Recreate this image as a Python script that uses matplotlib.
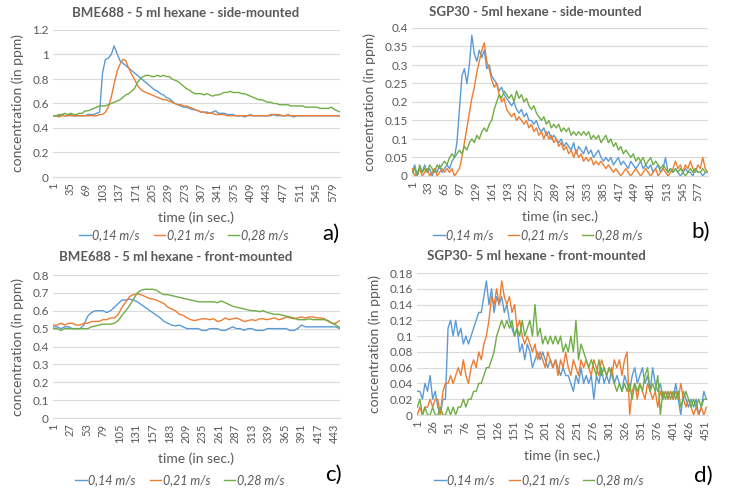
import numpy as np
import matplotlib
matplotlib.use("Agg")
import matplotlib.pyplot as plt
from matplotlib.lines import Line2D

plt.rcParams['font.family'] = ['Lato', 'DejaVu Sans']

# ---------------- data ----------------
speeds = ["0,14 m/s", "0,21 m/s", "0,28 m/s"]
colors = ["#5B9BD5", "#ED7D31", "#70AD47"]

# a) BME688 side-mounted, sampled every 6 s
t_a = list(range(1, 596, 6))
bme_side_014 = [0.50,0.50,0.50,0.51,0.50,0.50,0.51,0.50,0.50,0.50,
                0.50,0.50,0.51,0.51,0.51,0.52,0.53,0.85,0.96,0.97,
                1.00,1.07,1.01,0.95,0.93,0.91,0.89,0.87,0.85,0.83,
                0.81,0.79,0.77,0.75,0.73,0.71,0.70,0.68,0.67,0.65,
                0.64,0.62,0.60,0.59,0.58,0.57,0.57,0.56,0.55,0.55,
                0.54,0.53,0.53,0.53,0.52,0.53,0.54,0.52,0.52,0.52,
                0.51,0.51,0.51,0.50,0.50,0.50,0.49,0.50,0.51,0.50,
                0.50,0.50,0.50,0.50,0.50,0.50,0.51,0.50,0.50,0.50,
                0.50,0.50,0.50,0.49,0.50,0.50,0.50,0.50,0.50,0.50,
                0.50,0.50,0.50,0.50,0.50,0.50,0.50,0.50,0.50,0.50]
bme_side_021 = [0.50,0.50,0.49,0.50,0.50,0.50,0.50,0.50,0.50,0.50,
                0.50,0.50,0.50,0.50,0.50,0.50,0.51,0.51,0.53,0.57,
                0.65,0.76,0.86,0.92,0.96,0.95,0.89,0.84,0.80,0.75,
                0.72,0.70,0.69,0.68,0.67,0.66,0.65,0.64,0.63,0.63,
                0.62,0.61,0.60,0.59,0.59,0.58,0.58,0.57,0.56,0.55,
                0.54,0.53,0.53,0.52,0.52,0.52,0.51,0.51,0.51,0.51,
                0.50,0.50,0.50,0.50,0.50,0.50,0.50,0.50,0.50,0.50,
                0.50,0.50,0.50,0.50,0.50,0.51,0.51,0.51,0.51,0.50,
                0.50,0.51,0.50,0.50,0.50,0.50,0.50,0.50,0.50,0.50,
                0.50,0.50,0.50,0.50,0.50,0.50,0.50,0.50,0.50,0.50]
bme_side_028 = [0.50,0.50,0.51,0.51,0.52,0.51,0.52,0.51,0.51,0.52,
                0.52,0.54,0.54,0.55,0.56,0.57,0.58,0.58,0.58,0.59,
                0.60,0.61,0.62,0.63,0.65,0.67,0.68,0.70,0.72,0.77,
                0.80,0.82,0.83,0.83,0.82,0.82,0.83,0.82,0.83,0.82,
                0.82,0.80,0.79,0.78,0.76,0.74,0.72,0.71,0.69,0.68,
                0.68,0.68,0.67,0.68,0.67,0.66,0.67,0.67,0.68,0.69,
                0.69,0.70,0.69,0.69,0.69,0.68,0.68,0.67,0.66,0.65,
                0.64,0.63,0.63,0.62,0.61,0.61,0.60,0.60,0.59,0.59,
                0.59,0.59,0.58,0.58,0.58,0.58,0.58,0.57,0.57,0.57,
                0.57,0.57,0.56,0.56,0.56,0.56,0.57,0.55,0.54,0.53]

# b) SGP30 side-mounted, sampled every 5 s
t_b = list(range(1, 597, 5))
sgp_side_014 = [0.01,0.03,0.00,0.02,0.01,0.03,0.01,0.02,0.00,0.02,
                0.01,0.03,0.01,0.02,0.03,0.02,0.04,0.05,0.09,0.18,
                0.27,0.29,0.25,0.30,0.38,0.33,0.31,0.34,0.32,0.34,
                0.29,0.30,0.27,0.26,0.25,0.23,0.24,0.22,0.21,0.20,
                0.19,0.20,0.18,0.17,0.18,0.16,0.17,0.15,0.15,0.14,
                0.15,0.13,0.12,0.13,0.11,0.12,0.10,0.11,0.10,0.09,
                0.10,0.08,0.09,0.08,0.07,0.09,0.06,0.08,0.07,0.06,
                0.08,0.06,0.07,0.05,0.06,0.07,0.05,0.04,0.05,0.04,
                0.05,0.03,0.04,0.05,0.03,0.04,0.03,0.02,0.04,0.03,
                0.02,0.03,0.04,0.02,0.03,0.02,0.03,0.01,0.02,0.03,
                0.01,0.02,0.05,0.01,0.02,0.01,0.02,0.01,0.00,0.01,
                0.02,0.01,0.01,0.00,0.02,0.01,0.01,0.00,0.01,0.01]
sgp_side_021 = [0.02,0.00,0.01,0.02,0.00,0.01,0.02,0.00,0.01,0.02,
                0.00,0.01,0.02,0.01,0.02,0.01,0.02,0.00,0.01,0.02,
                0.05,0.09,0.13,0.17,0.21,0.24,0.28,0.31,0.34,0.36,
                0.31,0.29,0.26,0.24,0.25,0.22,0.20,0.21,0.18,0.17,
                0.16,0.17,0.15,0.16,0.15,0.14,0.15,0.13,0.14,0.12,
                0.13,0.11,0.12,0.10,0.12,0.10,0.11,0.09,0.10,0.08,
                0.09,0.07,0.08,0.06,0.07,0.05,0.07,0.05,0.06,0.04,
                0.05,0.04,0.05,0.03,0.04,0.03,0.04,0.03,0.02,0.03,
                0.02,0.01,0.02,0.01,0.00,0.01,0.02,0.01,0.00,0.01,
                0.02,0.01,0.00,0.01,0.02,0.01,0.00,0.01,0.02,0.00,
                0.01,0.02,0.01,0.00,0.01,0.02,0.04,0.02,0.03,0.01,
                0.03,0.02,0.04,0.02,0.01,0.03,0.02,0.05,0.02,0.01]
sgp_side_028 = [0.01,0.02,0.00,0.03,0.01,0.02,0.01,0.03,0.02,0.01,
                0.03,0.02,0.03,0.04,0.03,0.05,0.06,0.05,0.06,0.07,
                0.06,0.08,0.07,0.09,0.10,0.09,0.11,0.10,0.12,0.13,
                0.12,0.14,0.15,0.18,0.20,0.22,0.21,0.23,0.22,0.21,
                0.22,0.20,0.23,0.21,0.22,0.20,0.21,0.19,0.18,0.19,
                0.17,0.16,0.15,0.16,0.14,0.15,0.13,0.14,0.13,0.14,
                0.12,0.13,0.12,0.13,0.11,0.12,0.11,0.12,0.11,0.12,
                0.11,0.12,0.10,0.11,0.10,0.11,0.09,0.10,0.11,0.09,
                0.10,0.08,0.09,0.07,0.08,0.06,0.07,0.06,0.05,0.06,
                0.04,0.05,0.04,0.05,0.03,0.04,0.05,0.03,0.04,0.03,
                0.02,0.03,0.02,0.01,0.02,0.01,0.02,0.01,0.02,0.01,
                0.00,0.01,0.02,0.01,0.02,0.01,0.01,0.02,0.01,0.01]

# c) BME688 front-mounted, sampled every 6 s
t_c = list(range(1, 452, 6))
bme_front_014 = [0.51,0.51,0.50,0.51,0.51,0.50,0.50,0.50,0.52,0.57,
                 0.59,0.60,0.60,0.60,0.59,0.60,0.62,0.64,0.66,0.66,
                 0.665,0.66,0.65,0.635,0.62,0.605,0.59,0.575,0.56,0.54,
                 0.53,0.52,0.515,0.52,0.51,0.50,0.50,
                 0.50,0.50,0.49,0.49,0.50,0.50,0.50,0.49,0.49,0.50,
                 0.51,0.50,0.50,0.49,0.50,0.50,0.49,0.49,0.49,0.50,
                 0.50,0.50,0.50,0.50,0.50,0.49,0.49,0.50,0.52,0.51,
                 0.51,0.51,0.51,0.51,0.51,0.51,0.51,0.51,0.50]
bme_front_021 = [0.52,0.52,0.53,0.52,0.53,0.53,0.52,0.52,0.53,0.53,
                 0.54,0.54,0.54,0.55,0.55,0.56,0.56,0.58,0.62,0.65,
                 0.68,0.69,0.695,0.69,0.68,0.67,0.665,0.66,0.65,0.64,
                 0.62,0.61,0.60,0.58,0.575,0.56,0.55,0.545,0.55,0.555,
                 0.555,0.55,0.555,0.54,0.545,0.56,0.55,0.555,0.56,0.55,
                 0.54,0.545,0.55,0.545,0.555,0.555,0.55,0.555,0.56,0.55,
                 0.555,0.565,0.56,0.555,0.56,0.565,0.56,0.565,0.565,0.56,
                 0.56,0.555,0.54,0.53,0.53,0.545]
bme_front_028 = [0.50,0.50,0.49,0.50,0.50,0.50,0.50,0.50,0.50,0.50,
                 0.51,0.515,0.52,0.525,0.525,0.525,0.53,0.545,0.575,0.60,
                 0.63,0.665,0.70,0.715,0.72,0.72,0.72,0.715,0.70,0.69,
                 0.69,0.685,0.68,0.675,0.67,0.665,0.66,0.655,0.65,0.65,
                 0.65,0.65,0.65,0.645,0.655,0.645,0.635,0.625,0.62,0.615,
                 0.61,0.605,0.60,0.60,0.595,0.60,0.59,0.585,0.58,0.58,
                 0.575,0.57,0.565,0.56,0.55,0.55,0.55,0.555,0.55,0.55,
                 0.55,0.55,0.545,0.53,0.52,0.505]

# d) SGP30 front-mounted, sampled every 4 s
t_d = list(range(1, 454, 4))
sgp_front_014 = [0.03,0.03,0.02,0.04,0.03,0.05,0.02,0.03,0.01,0.00,
                 0.02,0.02,0.11,0.12,0.10,0.12,0.10,0.11,0.09,0.10,
                 0.09,0.10,0.11,0.12,0.13,0.13,0.15,0.17,0.14,0.16,
                 0.13,0.15,0.14,0.15,0.13,0.14,0.12,0.11,0.10,0.11,
                 0.08,0.09,0.07,0.09,0.08,0.06,0.07,0.08,0.07,0.08,
                 0.07,0.06,0.07,0.06,0.07,0.06,0.05,0.06,0.05,0.05,
                 0.04,0.03,0.05,0.04,0.06,0.04,0.05,0.04,0.05,0.02,
                 0.05,0.04,0.06,0.04,0.05,0.04,0.06,0.04,0.05,0.04,
                 0.03,0.05,0.04,0.03,0.05,0.06,0.04,0.05,0.06,0.04,
                 0.05,0.03,0.06,0.04,0.03,0.04,0.02,0.03,0.02,0.03,
                 0.02,0.04,0.02,0.00,0.03,0.02,0.01,0.02,0.01,0.02,
                 0.00,0.01,0.03,0.02]
sgp_front_021 = [0.00,0.01,0.00,0.01,0.01,0.02,0.01,0.02,0.02,0.00,
                 0.03,0.04,0.04,0.05,0.04,0.05,0.06,0.05,0.07,0.05,
                 0.04,0.06,0.07,0.06,0.08,0.07,0.09,0.10,0.12,0.15,
                 0.14,0.16,0.14,0.17,0.15,0.14,0.15,0.13,0.14,0.11,
                 0.12,0.10,0.09,0.10,0.09,0.08,0.09,0.07,0.08,0.07,
                 0.06,0.08,0.07,0.06,0.07,0.05,0.07,0.06,0.08,0.06,
                 0.05,0.07,0.06,0.05,0.07,0.06,0.07,0.06,0.05,0.07,
                 0.06,0.05,0.07,0.06,0.05,0.06,0.05,0.07,0.06,0.07,
                 0.05,0.07,0.08,0.00,0.03,0.04,0.02,0.04,0.03,0.02,
                 0.04,0.03,0.02,0.03,0.01,0.03,0.02,0.03,0.02,0.03,
                 0.02,0.03,0.02,0.04,0.02,0.01,0.02,0.01,0.00,0.01,
                 0.00,0.01,0.00,0.01]
sgp_front_028 = [0.01,0.02,0.00,0.01,0.00,0.00,0.01,0.00,0.00,0.01,
                 0.00,0.00,0.01,0.00,0.01,0.00,0.01,0.01,0.02,0.01,
                 0.02,0.02,0.03,0.03,0.04,0.04,0.05,0.06,0.06,0.07,
                 0.08,0.10,0.11,0.12,0.11,0.12,0.11,0.12,0.10,0.11,
                 0.10,0.12,0.10,0.11,0.12,0.10,0.14,0.10,0.11,0.09,
                 0.10,0.09,0.10,0.09,0.10,0.09,0.10,0.08,0.09,0.08,
                 0.10,0.08,0.12,0.07,0.09,0.08,0.07,0.06,0.07,0.06,
                 0.05,0.07,0.05,0.06,0.05,0.06,0.05,0.04,0.03,0.04,
                 0.03,0.04,0.03,0.04,0.02,0.04,0.03,0.04,0.03,0.05,
                 0.06,0.03,0.04,0.03,0.05,0.00,0.03,0.02,0.03,0.02,
                 0.03,0.02,0.03,0.01,0.02,0.03,0.02,0.01,0.02,0.01,
                 0.02,0.01,0.02,0.02]

panels = [
    dict(title="BME688 - 5 ml hexane - side-mounted", t=t_a,
         series=[bme_side_014, bme_side_021, bme_side_028],
         n=594, xstep=34, ymax=1.2, ystep=0.2, label="a)",
         rect_px=(53, 30, 340, 177), title_xy=(186, 13),
         legend_xy=(184, 235), label_xy=(331, 234)),
    dict(title="SGP30 - 5ml hexane - side-mounted", t=t_b,
         series=[sgp_side_014, sgp_side_021, sgp_side_028],
         n=596, xstep=32, ymax=0.4, ystep=0.05, label="b)",
         rect_px=(412, 28, 708, 176), title_xy=(535, 12),
         legend_xy=(538, 235), label_xy=(701, 232)),
    dict(title="BME688 - 5 ml hexane - front-mounted", t=t_c,
         series=[bme_front_014, bme_front_021, bme_front_028],
         n=451, xstep=26, ymax=0.8, ystep=0.1, label="c)",
         rect_px=(53, 275, 340, 418), title_xy=(176, 257),
         legend_xy=(180, 480), label_xy=(333, 475)),
    dict(title="SGP30- 5 ml hexane - front-mounted", t=t_d,
         series=[sgp_front_014, sgp_front_021, sgp_front_028],
         n=455, xstep=25, ymax=0.18, ystep=0.02, label="d)",
         rect_px=(417, 273, 708, 415), title_xy=(536, 256),
         legend_xy=(539, 480), label_xy=(703, 476)),
]

W, H = 729, 498
fig = plt.figure(figsize=(W / 100, H / 100), dpi=100)
gray = "#595959"
grid = "#D9D9D9"

def fx(px):
    return px / W

def fy(py):
    return 1 - py / H

for p in panels:
    l, t, r, b = p["rect_px"]
    ax = fig.add_axes([fx(l), fy(b), fx(r) - fx(l), fy(t) - fy(b)])
    for s, c in zip(p["series"], colors):
        ax.plot(p["t"], s, color=c, lw=1.0, solid_joinstyle="round")
    ax.set_xlim(0.5, p["n"] + 0.5)
    ax.set_ylim(0, p["ymax"])
    yt = np.round(np.arange(0, p["ymax"] + p["ystep"] / 2, p["ystep"]), 4)
    ax.set_yticks(yt)
    ax.set_yticklabels([f"{v:g}" for v in yt])
    xt = list(range(1, p["n"] + 1, p["xstep"]))
    ax.set_xticks(xt)
    ax.set_xticklabels([str(v) for v in xt], rotation=90)
    ax.grid(axis="y", color=grid, lw=0.8)
    ax.set_axisbelow(True)
    for side in ["top", "right", "left"]:
        ax.spines[side].set_visible(False)
    ax.spines["bottom"].set_color(grid)
    ax.tick_params(axis="both", length=0, colors=gray, labelsize=8.5, pad=3)
    ax.tick_params(axis="x", labelsize=8, pad=4)
    ax.set_ylabel("concentration (in ppm)", color=gray, fontsize=10, labelpad=6)
    ax.set_xlabel("time (in sec.)", color=gray, fontsize=10, labelpad=7)
    tx, ty = p["title_xy"]
    fig.text(fx(tx), fy(ty), p["title"], ha="center", va="center",
             fontsize=9.5, fontweight="bold", color=gray)
    handles = [Line2D([0], [0], color=c, lw=1.0) for c in colors]
    lx, ly = p["legend_xy"]
    fig.legend(handles, speeds, loc="center", ncol=3, frameon=False,
               bbox_to_anchor=(fx(lx), fy(ly)),
               prop=dict(style="italic", size=9), labelcolor=gray,
               handlelength=0.9, handletextpad=0.15, columnspacing=1.1)
    px_, py_ = p["label_xy"]
    fig.text(fx(px_), fy(py_), p["label"], ha="center", va="center",
             fontsize=16, color="black")

fig.savefig("out.png", dpi=100)
